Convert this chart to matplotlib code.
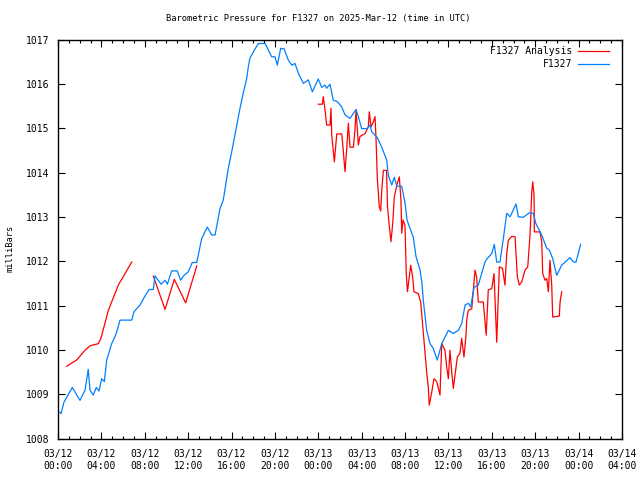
import numpy as np
import matplotlib
matplotlib.use("Agg")
import matplotlib.pyplot as plt
from matplotlib.ticker import MultipleLocator

# ---- data: hours since 2025-03-12 00:00 UTC, pressure in mbar ----
obs_hours = [0.18, 0.28, 0.55, 0.83, 1.32, 2.03, 2.49, 2.79, 2.95, 3.25, 3.53, 3.78, 4.03, 4.27,
             4.49, 4.95, 5.19, 5.41, 5.72, 6.80, 7.01, 7.56, 7.96, 8.39, 8.79, 8.94, 9.50, 9.87,
             10.08, 10.48, 11.00, 11.31, 11.62, 12.01, 12.38, 12.79, 13.25, 13.77, 14.17, 14.48,
             14.94, 15.24, 15.70, 16.02, 16.48, 16.78, 17.08, 17.40, 17.55, 17.70, 18.10, 18.47,
             19.09, 19.70, 20.01, 20.22, 20.53, 20.84, 21.23, 21.55, 21.85, 22.16, 22.62, 23.08,
             23.45, 24.00, 24.31, 24.62, 24.77, 25.08, 25.38, 25.75, 26.16, 26.46, 26.92, 27.48,
             27.69, 28.00, 28.49, 28.77, 28.92, 29.44, 29.85, 30.31, 30.45, 30.77, 31.01, 31.23,
             31.69, 32.00, 32.18, 32.45, 32.76, 33.01, 33.38, 33.56, 33.68, 33.99, 34.30, 34.60,
             34.97, 35.38, 35.99, 36.45, 36.91, 37.22, 37.53, 37.83, 38.05, 38.36, 38.75, 39.37,
             39.58, 39.99, 40.23, 40.45, 40.75, 41.06, 41.37, 41.68, 42.23, 42.44, 42.90, 43.46,
             43.82, 44.07, 44.60, 45.06, 45.30, 45.61, 45.98, 46.44, 47.21, 47.51, 47.76, 48.19]
obs_mbar = [1008.59, 1008.56, 1008.82, 1008.94, 1009.15, 1008.86, 1009.09, 1009.56, 1009.09,
            1008.98, 1009.15, 1009.07, 1009.35, 1009.28, 1009.77, 1010.14, 1010.26, 1010.40,
            1010.67, 1010.67, 1010.86, 1011.01, 1011.19, 1011.36, 1011.36, 1011.67, 1011.48,
            1011.57, 1011.48, 1011.78, 1011.78, 1011.57, 1011.68, 1011.76, 1011.97, 1011.97,
            1012.51, 1012.77, 1012.59, 1012.59, 1013.19, 1013.38, 1014.09, 1014.47, 1015.07,
            1015.45, 1015.79, 1016.12, 1016.39, 1016.58, 1016.76, 1016.91, 1016.91, 1016.61,
            1016.61, 1016.42, 1016.80, 1016.79, 1016.54, 1016.42, 1016.46, 1016.24, 1016.01,
            1016.09, 1015.82, 1016.11, 1015.92, 1015.97, 1015.90, 1015.99, 1015.63, 1015.60,
            1015.48, 1015.30, 1015.22, 1015.42, 1015.26, 1014.99, 1014.99, 1015.07, 1014.92,
            1014.79, 1014.57, 1014.28, 1013.94, 1013.72, 1013.89, 1013.69, 1013.69, 1013.31,
            1012.93, 1012.74, 1012.54, 1012.10, 1011.80, 1011.50, 1011.12, 1010.44, 1010.14,
            1010.03, 1009.77, 1010.14, 1010.44, 1010.37, 1010.44, 1010.59, 1011.01, 1011.05,
            1010.97, 1011.41, 1011.46, 1011.98, 1012.06, 1012.17, 1012.38, 1011.98, 1011.98,
            1012.51, 1013.08, 1013.00, 1013.29, 1013.00, 1012.99, 1013.09, 1013.08, 1012.84,
            1012.59, 1012.29, 1012.25, 1012.06, 1011.68, 1011.91, 1012.08, 1011.98, 1011.98,
            1012.38]

ana1_hours = [0.80, 1.72, 2.49, 2.95, 3.72, 3.96, 4.64, 5.56, 6.18, 6.80]
ana1_mbar = [1009.63, 1009.77, 1009.99, 1010.09, 1010.14, 1010.26, 1010.89, 1011.46, 1011.72, 1011.98]

ana2_hours = [8.79, 9.87, 10.72, 11.77, 12.79]
ana2_mbar = [1011.66, 1010.91, 1011.59, 1011.06, 1011.89]

ana3_hours = [24.00, 24.37, 24.46, 24.62, 24.77, 25.08, 25.17, 25.24, 25.48, 25.70, 26.16, 26.31,
              26.46, 26.62, 26.77, 26.92, 27.23, 27.38, 27.48, 27.69, 27.84, 28.31, 28.61, 28.70,
              28.86, 29.07, 29.23, 29.32, 29.44, 29.62, 29.75, 29.85, 30.00, 30.29, 30.38, 30.52,
              30.70, 30.86, 31.01, 31.26, 31.47, 31.62, 31.69, 31.81, 31.99, 32.11, 32.22, 32.52,
              32.70, 32.82, 33.22, 33.44, 33.68, 33.99, 34.14, 34.23, 34.46, 34.67, 34.92, 35.22,
              35.38, 35.68, 35.84, 35.99, 36.14, 36.30, 36.45, 36.82, 37.06, 37.22, 37.43, 37.62,
              37.68, 37.83, 38.15, 38.45, 38.61, 38.75, 39.21, 39.48, 39.67, 39.99, 40.20, 40.45,
              40.69, 40.98, 41.21, 41.37, 41.52, 41.83, 42.14, 42.35, 42.53, 42.75, 43.06, 43.31,
              43.52, 43.68, 43.77, 43.89, 43.92, 44.44, 44.60, 44.69, 44.90, 45.06, 45.21, 45.36,
              45.52, 45.61, 46.22, 46.29, 46.44]
ana3_mbar = [1015.54, 1015.54, 1015.71, 1015.41, 1015.07, 1015.07, 1015.45, 1014.84, 1014.24,
             1014.87, 1014.87, 1014.47, 1014.02, 1014.54, 1015.11, 1014.57, 1014.57, 1014.96,
             1015.41, 1014.62, 1014.81, 1014.88, 1015.03, 1015.37, 1015.03, 1015.14, 1015.26,
             1014.77, 1013.87, 1013.23, 1013.13, 1013.60, 1014.05, 1014.05, 1013.23, 1012.85,
             1012.44, 1012.85, 1013.45, 1013.74, 1013.90, 1013.38, 1012.63, 1012.93, 1012.81,
             1011.72, 1011.31, 1011.91, 1011.64, 1011.31, 1011.27, 1011.08, 1010.40, 1009.50,
             1009.16, 1008.75, 1009.05, 1009.35, 1009.28, 1008.98, 1010.14, 1009.99, 1009.61,
             1009.35, 1009.99, 1009.50, 1009.13, 1009.84, 1009.92, 1010.26, 1009.84, 1010.33,
             1010.67, 1010.89, 1010.93, 1011.80, 1011.62, 1011.08, 1011.08, 1010.33, 1011.35,
             1011.38, 1011.72, 1010.17, 1011.87, 1011.84, 1011.46, 1012.17, 1012.47, 1012.56,
             1012.55, 1011.65, 1011.46, 1011.53, 1011.80, 1011.87, 1012.59, 1013.56, 1013.79,
             1013.49, 1012.66, 1012.66, 1012.44, 1011.72, 1011.57, 1011.61, 1011.31, 1012.02,
             1011.46, 1010.74, 1010.76, 1011.08, 1011.31]

tick_hours = [0, 4, 8, 12, 16, 20, 24, 28, 32, 36, 40, 44, 48, 52]
tick_labels = ["03/12\n00:00", "03/12\n04:00", "03/12\n08:00", "03/12\n12:00", "03/12\n16:00",
               "03/12\n20:00", "03/13\n00:00", "03/13\n04:00", "03/13\n08:00", "03/13\n12:00",
               "03/13\n16:00", "03/13\n20:00", "03/14\n00:00", "03/14\n04:00"]
y_ticks = [1008, 1009, 1010, 1011, 1012, 1013, 1014, 1015, 1016, 1017]

title = "Barometric Pressure for F1327 on 2025-Mar-12 (time in UTC)"

# ---- figure ----
plt.rcParams['font.family'] = ['DejaVu Sans Mono']
fs = 7
fs_small = 6.3

fig = plt.figure(figsize=(6.4, 4.8), dpi=100)
ax = fig.add_axes([58 / 640, 1 - 438.5 / 480, (622 - 58) / 640, (438.5 - 39.5) / 480])

ana_h = ana1_hours + [np.nan] + ana2_hours + [np.nan] + ana3_hours
ana_p = ana1_mbar + [np.nan] + ana2_mbar + [np.nan] + ana3_mbar

ax.plot(ana_h, ana_p, color="#ff0000", lw=0.9, label="F1327 Analysis")
ax.plot(obs_hours, obs_mbar, color="#0080ff", lw=0.9, label="F1327")

ax.set_xlim(0, 52)
ax.set_ylim(1008, 1017)
ax.set_xticks(tick_hours)
ax.set_xticklabels(tick_labels, fontsize=fs, linespacing=1.3)
ax.set_yticks(y_ticks)
ax.set_yticklabels([str(v) for v in y_ticks], fontsize=fs)
ax.xaxis.set_minor_locator(MultipleLocator(1))
ax.tick_params(axis='both', which='major', direction='in', length=5, width=0.8,
               top=True, right=True, color='black')
ax.tick_params(axis='x', which='minor', direction='in', length=2.5, width=0.8, top=True)
ax.tick_params(axis='x', which='major', pad=7.5)
ax.tick_params(axis='y', which='major', pad=6)
for s in ax.spines.values():
    s.set_linewidth(1.0)
    s.set_color('black')

fig.text(318 / 640, 1 - 19 / 480, title, ha='center', va='center', fontsize=fs_small)
fig.text(10 / 640, 1 - 248 / 480, "milliBars", rotation=90, ha='center', va='center',
         fontsize=fs_small)

leg = ax.legend(loc='upper right', bbox_to_anchor=(1 - 6 / 564, 1), frameon=False,
                markerfirst=False, fontsize=fs, handlelength=3.2, handletextpad=0.6,
                borderaxespad=0.3, labelspacing=0.3)

fig.savefig("out.png", dpi=100)
